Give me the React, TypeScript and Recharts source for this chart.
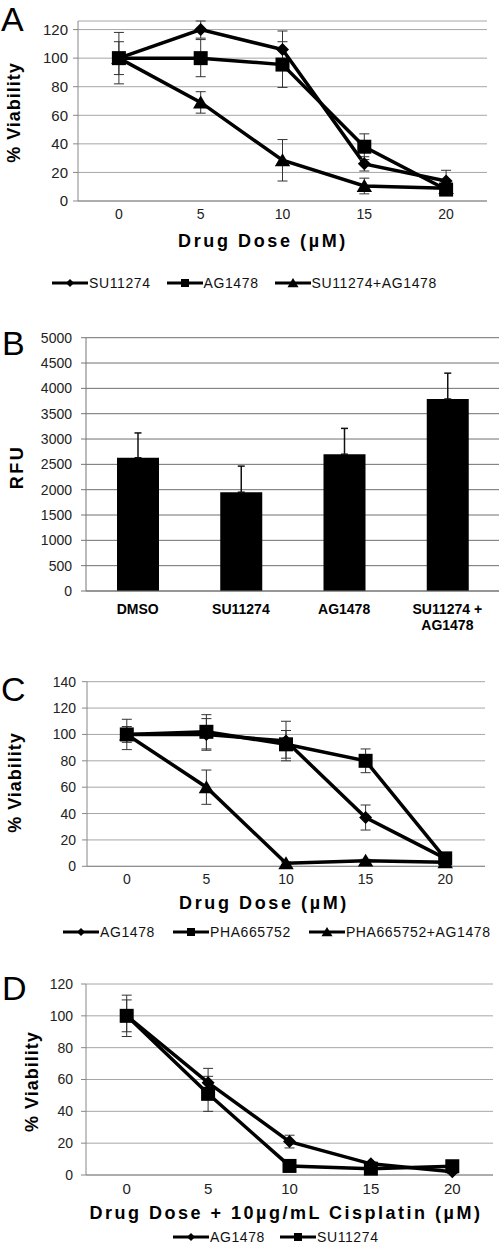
import React from "react";
import { LineChart, Line, BarChart, Bar, XAxis, YAxis, CartesianGrid, ErrorBar } from "recharts";

const doses = [0, 5, 10, 15, 20];

// panel A
const aSu = [100, 120, 106, 26, 14];
const aSuErr = [18, 6, 13, 5, 7.5];
const aAg = [100, 100, 95.5, 38, 8];
const aAgErr = [11.5, 13, 16, 9, 3];
const aCombo = [100, 69, 28.5, 10.5, 9];
const aComboErr = [4, 7.5, 14.5, 5.5, 2];
const aTicks = [0, 20, 40, 60, 80, 100, 120];

// panel B
const bGroups = ["DMSO", "SU11274", "AG1478", "SU11274 +\nAG1478"];
const bRfu = [2630, 1950, 2700, 3790];
const bErr = [490, 515, 510, 510];
const bTicks = [0, 500, 1000, 1500, 2000, 2500, 3000, 3500, 4000, 4500, 5000];

// panel C
const cAg = [100, 100, 95, 37, 6];
const cAgErr = [11.5, 12, 15, 9.5, 2];
const cPha = [100, 102, 92.5, 80, 6];
const cPhaErr = [6, 13, 10.5, 9, 2];
const cCombo = [100, 60, 2.3, 4.3, 3];
const cComboErr = [3, 13, 1, 1, 1];
const cTicks = [0, 20, 40, 60, 80, 100, 120, 140];

// panel D
const dAg = [100, 58, 21, 7, 2];
const dAgErr = [13, 9, 4, 1, 1];
const dSu = [100, 51, 5.7, 4, 5.5];
const dSuErr = [10, 11, 1, 1, 1];
const dTicks = [0, 20, 40, 60, 80, 100, 120];

const FONT = "'Liberation Sans', Arial, sans-serif";

const aRows = doses.map((d, i) => ({
  dose: d, su: aSu[i], suErr: aSuErr[i], ag: aAg[i], agErr: aAgErr[i], combo: aCombo[i], comboErr: aComboErr[i],
}));
const bRows = bGroups.map((g, i) => ({ group: g, rfu: bRfu[i], err: [0, bErr[i]] }));
const cRows = doses.map((d, i) => ({
  dose: d, ag: cAg[i], agErr: cAgErr[i], pha: cPha[i], phaErr: cPhaErr[i], combo: cCombo[i], comboErr: cComboErr[i],
}));
const dRows = doses.map((d, i) => ({ dose: d, ag: dAg[i], agErr: dAgErr[i], su: dSu[i], suErr: dSuErr[i] }));

type Shape = "diamond" | "square" | "triangle";

function Marker({ shape, cx, cy, s }: { shape: Shape; cx: number; cy: number; s: number }) {
  if (shape === "diamond")
    return <polygon points={`${cx},${cy - s} ${cx + s},${cy} ${cx},${cy + s} ${cx - s},${cy}`} fill="#000" />;
  if (shape === "square") return <rect x={cx - s} y={cy - s} width={2 * s} height={2 * s} fill="#000" />;
  return (
    <polygon points={`${cx},${cy - s} ${cx + s * 1.1},${cy + s * 0.85} ${cx - s * 1.1},${cy + s * 0.85}`} fill="#000" />
  );
}

const dotFor = (shape: Shape, s: number) => (p: any) =>
  <Marker key={`${shape}-${p.index}`} shape={shape} cx={p.cx} cy={p.cy} s={s} />;

const tickStyle = (size: number) => ({ fill: "#222", fontSize: size, fontFamily: FONT });

function KeyRow({ items, left, top, gap }: { items: { name: string; shape: Shape }[]; left: number; top: number; gap: number }) {
  return (
    <div
      style={{
        position: "absolute", left, top, display: "flex", alignItems: "center", gap,
        whiteSpace: "nowrap", fontFamily: FONT, fontSize: 14, letterSpacing: 0.6, color: "#111", height: 16,
      }}
    >
      {items.map((it) => (
        <span key={it.name} style={{ display: "flex", alignItems: "center" }}>
          <svg width={36} height={14} style={{ marginRight: 1 }}>
            <line x1={0} x2={36} y1={7} y2={7} stroke="#000" strokeWidth={3} />
            <Marker shape={it.shape} cx={18} cy={7} s={it.shape === "triangle" ? 5 : 4} />
          </svg>
          <span>{it.name}</span>
        </span>
      ))}
    </div>
  );
}

const GroupTick = (p: any) => {
  const lines = String(p.payload.value).split("\n");
  return (
    <text x={p.x} y={p.y} textAnchor="middle" fill="#000" fontSize={14} fontWeight="bold" fontFamily={FONT}>
      {lines.map((l, i) => (
        <tspan key={i} x={p.x} dy={i === 0 ? 12.5 : 16}>{l}</tspan>
      ))}
    </text>
  );
};

const titleProps = { fontFamily: FONT, fontWeight: "bold" as const, fontSize: 18, fill: "#000" };

function Titles() {
  return (
    <svg width={500} height={1247} style={{ position: "absolute", left: 0, top: 0, pointerEvents: "none" }}>
      <g fontFamily={FONT} fontSize={34} fill="#000">
        <text x={1} y={31}>A</text>
        <text x={2} y={355}>B</text>
        <text x={1} y={701}>C</text>
        <text x={2} y={1000}>D</text>
      </g>
      <text {...titleProps} letterSpacing={2.6} x={263} y={247} textAnchor="middle">Drug Dose (µM)</text>
      <text {...titleProps} letterSpacing={1} transform="translate(19.5,112.5) rotate(-90)" textAnchor="middle">% Viability</text>
      <text {...titleProps} letterSpacing={2.5} transform="translate(22.7,467) rotate(-90)" textAnchor="middle">RFU</text>
      <text {...titleProps} letterSpacing={2.6} x={264} y={908.5} textAnchor="middle">Drug Dose (µM)</text>
      <text {...titleProps} letterSpacing={1} transform="translate(21,782.5) rotate(-90)" textAnchor="middle">% Viability</text>
      <text {...titleProps} letterSpacing={2.5} x={286} y={1219} textAnchor="middle">Drug Dose + 10µg/mL Cisplatin (µM)</text>
      <text {...titleProps} letterSpacing={1} transform="translate(37.7,1081.7) rotate(-90)" textAnchor="middle">% Viability</text>
    </svg>
  );
}

const errProps = { width: 5, stroke: "#333", strokeWidth: 1, direction: "y" as const };

export default function App() {
  return (
    <div style={{ position: "absolute", left: 0, top: 0, width: 500, height: 1247, background: "#fff", overflow: "hidden" }}>
      <Titles />

      {/* A */}
      <div style={{ position: "absolute", left: 0, top: 0 }}>
        <LineChart width={500} height={300} data={aRows} margin={{ top: 21, right: 13, bottom: 69, left: 0 }}>
          <CartesianGrid vertical={false} stroke="#a6a6a6" />
          <XAxis dataKey="dose" type="number" domain={[-2.5, 22.5]} ticks={doses} interval={0} height={30}
            tickLine={false} tickSize={6} tickMargin={2} axisLine={{ stroke: "#888" }} tick={tickStyle(14)} />
          <YAxis domain={[0, 120]} ticks={aTicks} interval={0} width={78} tickSize={5} tickMargin={5}
            axisLine={{ stroke: "#888" }} tickLine={{ stroke: "#888" }} tick={tickStyle(15)} />
          <Line dataKey="combo" stroke="#000" strokeWidth={3.5} dot={dotFor("triangle", 7)} activeDot={false} isAnimationActive={false}>
            <ErrorBar dataKey="comboErr" {...errProps} />
          </Line>
          <Line dataKey="su" stroke="#000" strokeWidth={3.5} dot={dotFor("diamond", 6.5)} activeDot={false} isAnimationActive={false}>
            <ErrorBar dataKey="suErr" {...errProps} />
          </Line>
          <Line dataKey="ag" stroke="#000" strokeWidth={3.5} dot={dotFor("square", 7)} activeDot={false} isAnimationActive={false}>
            <ErrorBar dataKey="agErr" {...errProps} />
          </Line>
        </LineChart>
      </div>
      <KeyRow left={52} top={275} gap={16} items={[
        { name: "SU11274", shape: "diamond" },
        { name: "AG1478", shape: "square" },
        { name: "SU11274+AG1478", shape: "triangle" },
      ]} />

      {/* B */}
      <div style={{ position: "absolute", left: 0, top: 300 }}>
        <BarChart width={500} height={340} data={bRows} margin={{ top: 37.7, right: 1, bottom: 0, left: 0 }}>
          <CartesianGrid vertical={false} stroke="#707070" />
          <XAxis xAxisId="edges" type="number" domain={[0, 4]} ticks={[0, 1, 2, 3, 4]} height={0}
            tick={false} tickSize={5} tickLine={{ stroke: "#777" }} axisLine={false} />
          <XAxis dataKey="group" height={49} interval={0} tickLine={false} tickSize={0} tickMargin={10}
            axisLine={{ stroke: "#777" }} tick={<GroupTick />} />
          <YAxis domain={[0, 5000]} ticks={bTicks} interval={0} width={86} tickSize={5} tickMargin={9}
            axisLine={{ stroke: "#777" }} tickLine={{ stroke: "#777" }} tick={tickStyle(14)} />
          <YAxis yAxisId="r" orientation="right" width={0} domain={[0, 5000]} tick={false} tickLine={false}
            axisLine={{ stroke: "#777" }} />
          <Bar dataKey="rfu" fill="#000" barSize={42} isAnimationActive={false}>
            <ErrorBar dataKey="err" width={3.5} stroke="#111" strokeWidth={1.5} direction="y" />
          </Bar>
        </BarChart>
      </div>

      {/* C */}
      <div style={{ position: "absolute", left: 0, top: 630 }}>
        <LineChart width={500} height={310} data={cRows} margin={{ top: 51.7, right: 15, bottom: 43.7, left: 0 }}>
          <CartesianGrid vertical={false} stroke="#a6a6a6" />
          <XAxis dataKey="dose" type="number" domain={[-2.5, 22.5]} ticks={doses} interval={0} height={30}
            tickLine={false} tickSize={6} tickMargin={2} axisLine={{ stroke: "#888" }} tick={tickStyle(14)} />
          <YAxis domain={[0, 140]} ticks={cTicks} interval={0} width={87} tickSize={5} tickMargin={6}
            axisLine={{ stroke: "#888" }} tickLine={{ stroke: "#888" }} tick={tickStyle(14)} />
          <Line dataKey="combo" stroke="#000" strokeWidth={3.5} dot={dotFor("triangle", 7)} activeDot={false} isAnimationActive={false}>
            <ErrorBar dataKey="comboErr" {...errProps} />
          </Line>
          <Line dataKey="ag" stroke="#000" strokeWidth={3.5} dot={dotFor("diamond", 6.5)} activeDot={false} isAnimationActive={false}>
            <ErrorBar dataKey="agErr" {...errProps} />
          </Line>
          <Line dataKey="pha" stroke="#000" strokeWidth={3.5} dot={dotFor("square", 7)} activeDot={false} isAnimationActive={false}>
            <ErrorBar dataKey="phaErr" {...errProps} />
          </Line>
        </LineChart>
      </div>
      <KeyRow left={63} top={924} gap={18} items={[
        { name: "AG1478", shape: "diamond" },
        { name: "PHA665752", shape: "square" },
        { name: "PHA665752+AG1478", shape: "triangle" },
      ]} />

      {/* D */}
      <div style={{ position: "absolute", left: 0, top: 940 }}>
        <LineChart width={500} height={307} data={dRows} margin={{ top: 44, right: 7, bottom: 42, left: 0 }}>
          <CartesianGrid vertical={false} stroke="#a6a6a6" />
          <XAxis dataKey="dose" type="number" domain={[-2.5, 22.5]} ticks={doses} interval={0} height={30}
            tickLine={false} tickSize={6} tickMargin={2} axisLine={{ stroke: "#888" }} tick={tickStyle(15)} />
          <YAxis domain={[0, 120]} ticks={dTicks} interval={0} width={86} tickSize={5} tickMargin={8}
            axisLine={{ stroke: "#888" }} tickLine={{ stroke: "#888" }} tick={tickStyle(14)} />
          <Line dataKey="ag" stroke="#000" strokeWidth={3.5} dot={dotFor("diamond", 6.5)} activeDot={false} isAnimationActive={false}>
            <ErrorBar dataKey="agErr" {...errProps} />
          </Line>
          <Line dataKey="su" stroke="#000" strokeWidth={3.5} dot={dotFor("square", 7)} activeDot={false} isAnimationActive={false}>
            <ErrorBar dataKey="suErr" {...errProps} />
          </Line>
        </LineChart>
      </div>
      <KeyRow left={173} top={1229} gap={15} items={[
        { name: "AG1478", shape: "diamond" },
        { name: "SU11274", shape: "square" },
      ]} />
    </div>
  );
}
